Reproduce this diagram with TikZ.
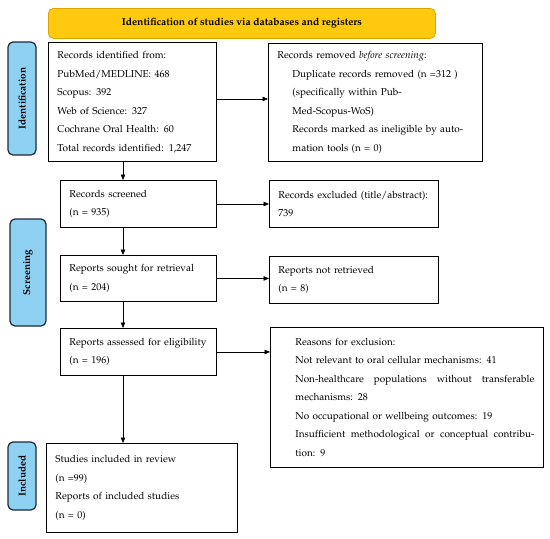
\documentclass[tikz,border=0pt]{standalone}
\usepackage[T1]{fontenc}
\renewcommand{\rmdefault}{ppl}
\usepackage{tikz}
\usepackage{xcolor}
\usetikzlibrary{positioning}
\usetikzlibrary{arrows.meta}
\usetikzlibrary{calc}
\definecolor{titlegold}{HTML}{FFC90E}
\definecolor{titleedge}{HTML}{E0A200}
\definecolor{phaseblue}{HTML}{8ED1F2}
\definecolor{phaseedge}{HTML}{1E2A36}
\tikzset{
  % A PRISMA record box, text at the top left
  recbox/.style={
    draw=black, line width=0.9pt, fill=white, rectangle, align=left,
    anchor=north west, inner xsep=9pt, inner ysep=0pt,
    font=\fontsize{10}{18.5}\selectfont, text width=#1},
  % The rounded phase tags on the left
  phase/.style={
    draw=phaseedge, line width=1.2pt, fill=phaseblue, rounded corners=5pt,
    rotate=90, font=\fontsize{10}{12}\selectfont\bfseries, inner sep=0pt},
  % The heading bar
  heading/.style={
    draw=titleedge, line width=0.8pt, fill=titlegold, rounded corners=5pt,
    anchor=north west, font=\fontsize{10.3}{12}\selectfont\bfseries, inner sep=0pt},
  % Connectors
  flow/.style={-{Triangle[length=5.5pt,width=4.5pt]}, draw=black, line width=0.6pt},
}
% a line spread out to the full width of the reasons box
\newcommand{\fullline}[1]{\makebox[239pt][l]{#1}}

\begin{document}
\begin{tikzpicture}[x=1pt, y=-1pt]

  \useasboundingbox (0,0) rectangle (550,539);

  \node[heading, minimum width=387pt, minimum height=30pt] (head) at (48,8)
    {Identification of studies via databases and registers};

  % phase tags
  \node[phase, minimum width=113pt, minimum height=28pt] (tagid) at (22,98.5) {Identification};
  \node[phase, minimum width=107pt, minimum height=36pt] (tagscr) at (28,272.5) {Screening};
  \node[phase, minimum width=68pt, minimum height=28pt] (taginc) at (22,476) {Included};

  % left column
  \node[recbox=150pt, minimum height=119pt] (ident) at (48,42)
    {Records identified from:\\ PubMed/MEDLINE: 468\\ Scopus: 392\\
     Web of Science: 327\\ Cochrane Oral Health: 60\\ Total records identified: 1,247};
  \node[recbox=138pt, minimum height=47pt] (screen) at (60,180)
    {Records screened\\ (n = 935)};
  \node[recbox=138pt, minimum height=46pt] (sought) at (60,255)
    {Reports sought for retrieval\\ (n = 204)};
  \node[recbox=138pt, minimum height=47pt] (assess) at (60,328)
    {Reports assessed for eligibility\\ (n = 196)};
  \node[recbox=173pt, minimum height=89pt] (incl) at (46,443)
    {Studies included in review\\ (n =99)\\ Reports of included studies\\ (n = 0)};

  % right column
  \node[recbox=196pt, minimum height=118pt] (removed) at (268,43)
    {Records removed \textit{before screening}:\\
     \hspace*{15pt}Duplicate records removed (n =312 )\\
     \hspace*{15pt}(specifically within Pub-\\
     \hspace*{15pt}Med-Scopus-WoS)\\
     \hspace*{15pt}Records marked as ineligible by auto-\\
     \hspace*{15pt}mation tools (n = 0)};
  \node[recbox=151pt, minimum height=47pt] (excl) at (269,180)
    {Records excluded (title/abstract):\\ 739};
  \node[recbox=151pt, minimum height=47pt] (notret) at (269,256)
    {Reports not retrieved\\ (n = 8)};
  \node[recbox=255pt, minimum height=140pt] (reasons) at (270,327)
    {\hspace*{16pt}Reasons for exclusion:\\
     \hspace*{16pt}Not relevant to oral cellular mechanisms: 41\\
     \hspace*{16pt}\fullline{Non-healthcare\hfill populations\hfill without\hfill transferable}\\
     \hspace*{16pt}mechanisms: 28\\
     \hspace*{16pt}No occupational or wellbeing outcomes: 19\\
     \hspace*{16pt}\fullline{Insufficient\hfill methodological\hfill or\hfill conceptual\hfill contribu-}\\
     \hspace*{16pt}tion: 9};

  % connectors
  \coordinate (spine) at (123,0);
  \draw[flow] (spine |- ident.south) -- (spine |- screen.north);
  \draw[flow] (spine |- screen.south) -- (spine |- sought.north);
  \draw[flow] (spine |- sought.south) -- (spine |- assess.north);
  \draw[flow] (spine |- assess.south) -- (spine |- incl.north);

  \draw[flow] ($(ident.east)+(0,-3)$) -- ($(ident.east -| removed.west)+(0,-3)$);
  \draw[flow] (screen.east) -- (screen.east -| excl.west);
  \draw[flow] (sought.east) -- (sought.east -| notret.west);
  \draw[flow] (assess.east) -- (assess.east -| reasons.west);

\end{tikzpicture}
\end{document}
